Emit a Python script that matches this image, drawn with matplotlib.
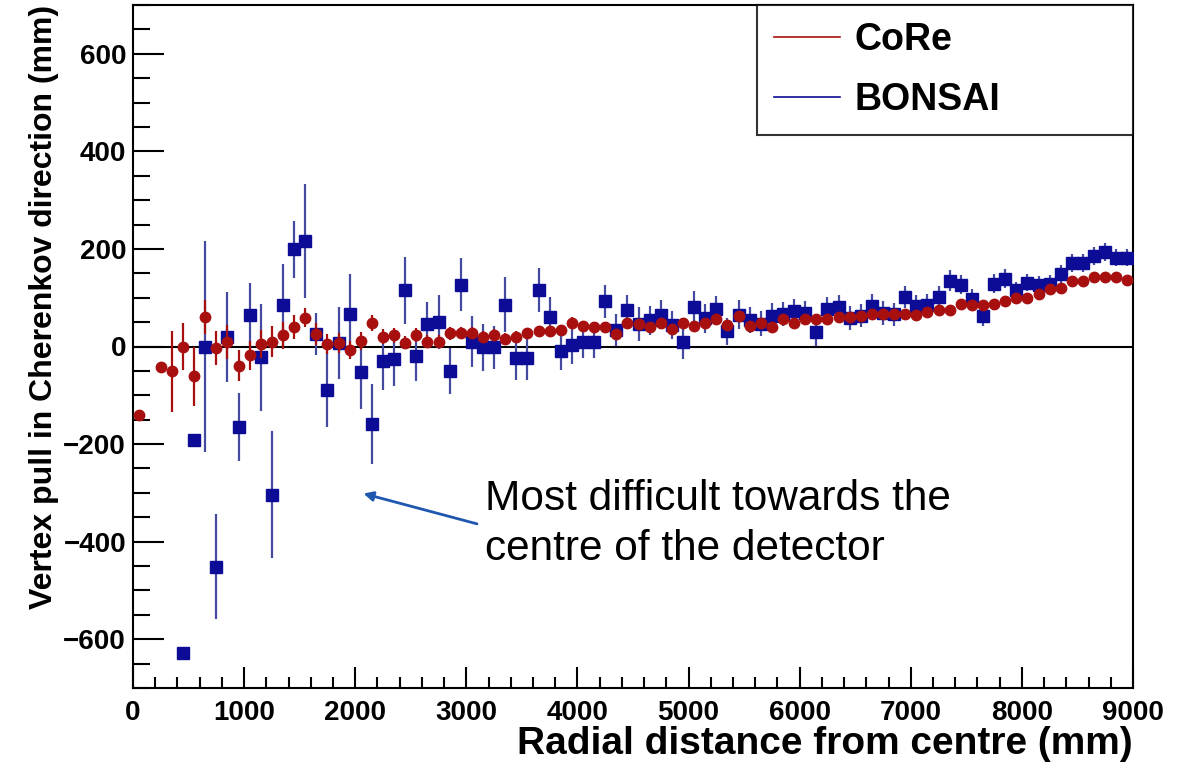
import matplotlib.pyplot as plt
from matplotlib.lines import Line2D
from matplotlib.ticker import MultipleLocator

plt.rcParams['font.family'] = ['Liberation Sans', 'DejaVu Sans']

# CoRe (red) - bin centres in mm, pull, error
core_x = [50] + list(range(250, 9000, 100))
core_y = [-141, -43, -51, 0, -61, 60, -3, 10, -39, -18,
          5, 10, 23, 40, 59, 26, 5, 7, -7, 11,
          48, 20, 23, 8, 23, 10, 10, 27, 27, 27,
          20, 24, 16, 20, 27, 31, 31, 34, 49, 41,
          39, 39, 25, 49, 47, 39, 49, 35, 49, 42,
          48, 56, 44, 62, 42, 48, 39, 56, 49, 56,
          56, 57, 61, 61, 63, 67, 66, 66, 67, 65,
          71, 74, 74, 88, 86, 85, 88, 93, 100, 100,
          107, 118, 119, 134, 134, 143, 143, 143, 137]
core_err = [8, 10, 83, 48, 60, 35, 35, 35, 32, 30,
            28, 32, 28, 24, 20, 22, 20, 20, 18, 18,
            16, 15, 15, 14, 14, 13, 13, 13, 12, 12,
            12, 12, 12, 12, 11, 11, 11, 11, 11, 11,
            10, 10, 10, 10, 10, 10, 10, 10, 10, 10,
            10, 9, 9, 9, 9, 9, 9, 9, 9, 9,
            9, 9, 9, 9, 9, 9, 8, 8, 8, 8,
            8, 8, 8, 8, 8, 8, 8, 8, 8, 8,
            8, 8, 8, 8, 8, 8, 8, 8, 8]

# BONSAI (blue)
bonsai_x = list(range(450, 9000, 100))
bonsai_y = [-628, -192, 0, -451, 19, -165, 65, -22, -304, 85,
            199, 217, 25, -89, 7, 67, -53, -158, -30, -26,
            115, -20, 46, 50, -50, 127, 10, -2, -2, 86,
            -24, -24, 116, 61, -10, 3, 10, 10, 93, 34,
            75, 46, 54, 65, 44, 10, 80, 58, 76, 31,
            65, 54, 47, 63, 67, 73, 69, 29, 76, 80,
            58, 63, 84, 69, 66, 101, 83, 85, 101, 135,
            127, 97, 63, 129, 139, 115, 131, 127, 129, 149,
            171, 171, 185, 194, 182, 182]
bonsai_err = [8, 10, 217, 107, 92, 70, 66, 110, 130, 85,
              58, 117, 43, 77, 73, 82, 75, 82, 60, 55,
              68, 50, 45, 55, 47, 55, 52, 48, 45, 56,
              45, 45, 45, 40, 38, 38, 34, 33, 34, 33,
              30, 35, 30, 30, 28, 36, 33, 30, 28, 28,
              30, 26, 25, 27, 25, 25, 25, 27, 26, 25,
              25, 24, 23, 24, 23, 22, 22, 22, 22, 22,
              20, 20, 20, 20, 20, 18, 18, 18, 18, 18,
              18, 18, 18, 18, 18, 18]

red = '#a81010'
blue = '#0c0c96'

fig = plt.figure(figsize=(11.94, 7.63), dpi=100)
ax = fig.add_axes([133 / 1194, 1 - 688 / 763, 1000 / 1194, 683 / 763])

ax.axhline(0, color='black', lw=1.5, zorder=1)
ax.errorbar(bonsai_x, bonsai_y, yerr=bonsai_err, fmt='s', color=blue, ecolor='#444aa0',
            ms=8.5, elinewidth=1.6, capsize=0, zorder=3)
ax.errorbar(core_x, core_y, yerr=core_err, fmt='o', color=red, ecolor=red,
            ms=7.5, elinewidth=1.6, capsize=0, zorder=4)

ax.set_xlim(0, 9000)
ax.set_ylim(-700, 700)
ax.xaxis.set_major_locator(MultipleLocator(1000))
ax.xaxis.set_minor_locator(MultipleLocator(200))
ax.yaxis.set_major_locator(MultipleLocator(200))
ax.yaxis.set_minor_locator(MultipleLocator(50))
ax.tick_params(axis='both', which='both', direction='in', top=False, right=False,
               width=1.5, labelsize=20)
ax.tick_params(axis='x', which='major', length=15, pad=9)
ax.tick_params(axis='x', which='minor', length=8)
ax.tick_params(axis='y', which='major', length=22, pad=5)
ax.tick_params(axis='y', which='minor', length=12)
for lab in ax.get_xticklabels() + ax.get_yticklabels():
    lab.set_fontweight('bold')
ax.yaxis.set_major_formatter(plt.FuncFormatter(lambda v, p: f'{int(v)}'.replace('-', '\u2212')))
for s in ax.spines.values():
    s.set_linewidth(1.5)

ax.set_xlabel('Radial distance from centre (mm)', fontsize=28, fontweight='bold',
              loc='right', labelpad=0)
ax.set_ylabel('Vertex pull in Cherenkov direction (mm)', fontsize=23, fontweight='bold',
              loc='top', labelpad=3)

handles = [Line2D([], [], color=red, lw=1.2), Line2D([], [], color=blue, lw=1.2)]
leg = ax.legend(handles, ['CoRe', 'BONSAI'], loc='upper left',
                bbox_to_anchor=(0.624, 0.0, 0.376, 1.0), mode='expand',
                prop={'size': 27, 'weight': 'bold'}, frameon=True, fancybox=False,
                edgecolor='black', borderpad=0.45, labelspacing=0.65, handlelength=1.75,
                handletextpad=0.4, borderaxespad=0)
leg.get_frame().set_linewidth(1.5)

ax.annotate('', xy=(2050, -300), xytext=(3120, -365),
            arrowprops=dict(arrowstyle='-|>', color='#1f56b0', lw=2, mutation_scale=14))
ax.text(3170, -272, 'Most difficult towards the\ncentre of the detector', fontsize=30.5,
        va='top', ha='left', linespacing=1.32)

fig.savefig('out.png', dpi=100)
